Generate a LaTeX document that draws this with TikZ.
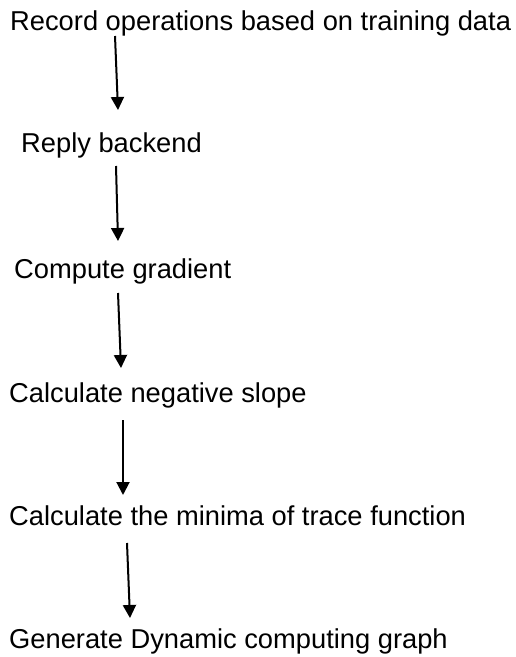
\documentclass[tikz,border=0pt]{standalone}
\usepackage{fontspec}
\setmainfont{Liberation Sans}
\usepackage{tikz}
\usetikzlibrary{arrows.meta,positioning,calc}
\tikzstyle{stepline} = [inner sep=0pt, font=\fontsize{27.3}{32}\selectfont, anchor=base west]
\tikzstyle{line} = [draw, line width=2pt, -{Triangle[length=13pt,width=13pt]}]

\begin{document}
\begin{tikzpicture}[x=1pt, y=-1pt]
    \useasboundingbox (0,0) rectangle (516,657);
    \node [stepline] (record) at (10,30) {Record operations based on training data};
    \node [stepline, below=122pt of record.base west, anchor=base west, xshift=11pt] (reply) {Reply backend};
    \node [stepline, below=126pt of reply.base west, anchor=base west, xshift=-7pt] (gradient) {Compute gradient};
    \node [stepline, below=124pt of gradient.base west, anchor=base west, xshift=-5pt] (slope) {Calculate negative slope};
    \node [stepline, below=123pt of slope.base west, anchor=base west] (minima) {Calculate the minima of trace function};
    \node [stepline, below=123pt of minima.base west, anchor=base west] (graph) {Generate Dynamic computing graph};

    \path [line] ($(record.base west)+(105,6)$) -- ($(reply.base west)+(97,-42)$);
    \path [line] ($(reply.base west)+(95,14)$) -- ($(gradient.base west)+(104,-37)$);
    \path [line] ($(gradient.base west)+(104,15)$) -- ($(slope.base west)+(112,-34)$);
    \path [line] ($(slope.base west)+(114,18)$) -- ($(minima.base west)+(114,-30)$);
    \path [line] ($(minima.base west)+(118,18)$) -- ($(graph.base west)+(121,-30)$);
\end{tikzpicture}
\end{document}
